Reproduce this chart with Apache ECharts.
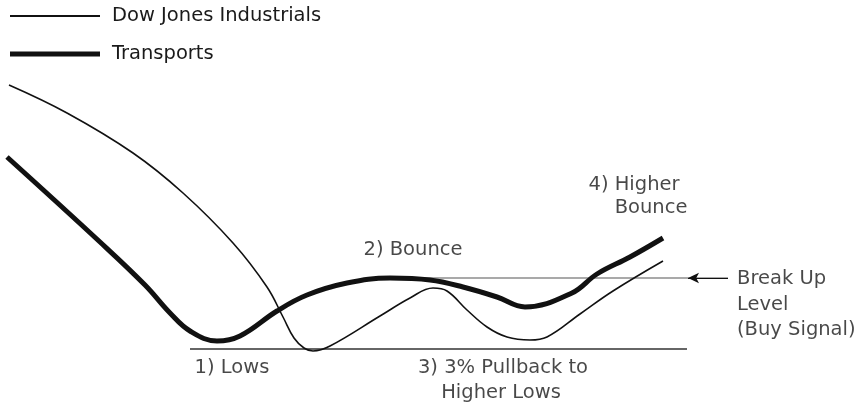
<!DOCTYPE html>
<html><head><meta charset="utf-8">
<script src="https://cdn.jsdelivr.net/npm/echarts@6/dist/echarts.min.js"></script>
<style>html,body{margin:0;padding:0;background:#fff}#c{width:859px;height:412px}</style>
</head><body><div id="c"></div>
<script>
// Schematic values (x: time units, y: price level, larger = lower on chart)
const dowX = [9, 67, 133, 183, 233, 267, 283, 294, 304, 313, 330, 380, 410, 433, 447, 467, 487, 507, 530, 547, 580, 613, 663];
const dowY = [85, 113, 153, 193, 243, 287, 317, 338, 348, 351, 346, 316, 298, 288, 291, 310, 327, 337, 340, 337, 314, 291, 261];
const trnX = [7, 100, 145, 170, 190, 217, 240, 277, 307, 347, 390, 430, 463, 497, 525, 572, 597, 630, 663];
const trnY = [157, 242, 285, 313, 331, 341, 336, 311, 295, 283, 278, 280, 287, 297, 307, 293, 274, 257, 238];
const lowLevel = 349, lowStart = 190, lowEnd = 687;
const breakLevel = 278, breakStart = 380, breakEnd = 728, arrowTip = 688;
const centeredNotes = [
  {t: '2) Bounce', x: 413, y: 250},
  {t: '4) Higher', x: 634, y: 185},
  {t: 'Bounce', x: 651, y: 208},
  {t: '1) Lows', x: 232, y: 368},
  {t: '3) 3% Pullback to', x: 503, y: 368},
  {t: 'Higher Lows', x: 501, y: 393}
];
const leftNotes = [
  {t: 'Break Up', x: 737, y: 279},
  {t: 'Level', x: 737, y: 305},
  {t: '(Buy Signal)', x: 737, y: 330}
];
const legendNames = ['Dow Jones Industrials', 'Transports'];
const FONT = 'DejaVu Sans';
const FS = 19.5;
const TXT = '#1a1a1a';
const zip = (a, b) => a.map((v, i) => [v, b[i]]);
const chart = echarts.init(document.getElementById('c'));
chart.setOption({
  animation: false,
  backgroundColor: '#fff',
  grid: {left: 0, right: 0, top: 0, bottom: 0},
  xAxis: {type: 'value', min: 0, max: 859, show: false},
  yAxis: {type: 'value', min: 0, max: 412, inverse: true, show: false},
  legend: {
    orient: 'vertical', left: 10, top: 6, itemWidth: 90, itemHeight: 14, itemGap: 18, padding: 0,
    data: [
      {name: legendNames[0], icon: 'path://M0,0H90V1.8H0Z'},
      {name: legendNames[1], icon: 'path://M0,0H90V5H0Z'}
    ],
    textStyle: {fontFamily: FONT, fontSize: FS, lineHeight: 16, color: TXT, padding: [0, 0, 0, 7]}
  },
  series: [
    {name: legendNames[0], type: 'line', smooth: 0.4, symbol: 'none', data: zip(dowX, dowY),
     lineStyle: {color: '#111', width: 1.6}, itemStyle: {color: '#111'}, z: 3},
    {name: legendNames[1], type: 'line', smooth: 0.4, symbol: 'none', data: zip(trnX, trnY),
     lineStyle: {color: '#111', width: 5}, itemStyle: {color: '#111'}, z: 4},
    {name: 'lows', type: 'line', symbol: 'none', data: [[lowStart, lowLevel], [lowEnd, lowLevel]],
     lineStyle: {color: '#666', width: 1.8}, silent: true, z: 2},
    {name: 'break', type: 'line', symbol: 'none', data: [[breakStart, breakLevel], [breakEnd, breakLevel]],
     lineStyle: {color: '#555', width: 1.2}, silent: true, z: 2,
     markLine: {silent: true, symbol: ['none', 'arrow'], symbolSize: [8, 11],
       lineStyle: {color: '#111', width: 1.2, type: 'solid'}, label: {show: false},
       data: [[{coord: [breakEnd, breakLevel]}, {coord: [arrowTip, breakLevel]}]]}},
    {name: 'notesC', type: 'scatter', symbolSize: 0, silent: true,
     data: centeredNotes.map(n => ({value: [n.x, n.y], name: n.t})),
     label: {show: true, position: 'inside', formatter: p => p.name,
       fontFamily: FONT, fontSize: FS, color: TXT}},
    {name: 'notesL', type: 'scatter', symbolSize: 0, silent: true,
     data: leftNotes.map(n => ({value: [n.x, n.y], name: n.t})),
     label: {show: true, position: 'right', distance: 0, formatter: p => p.name,
       fontFamily: FONT, fontSize: FS, color: TXT}}
  ]
});
</script></body></html>
